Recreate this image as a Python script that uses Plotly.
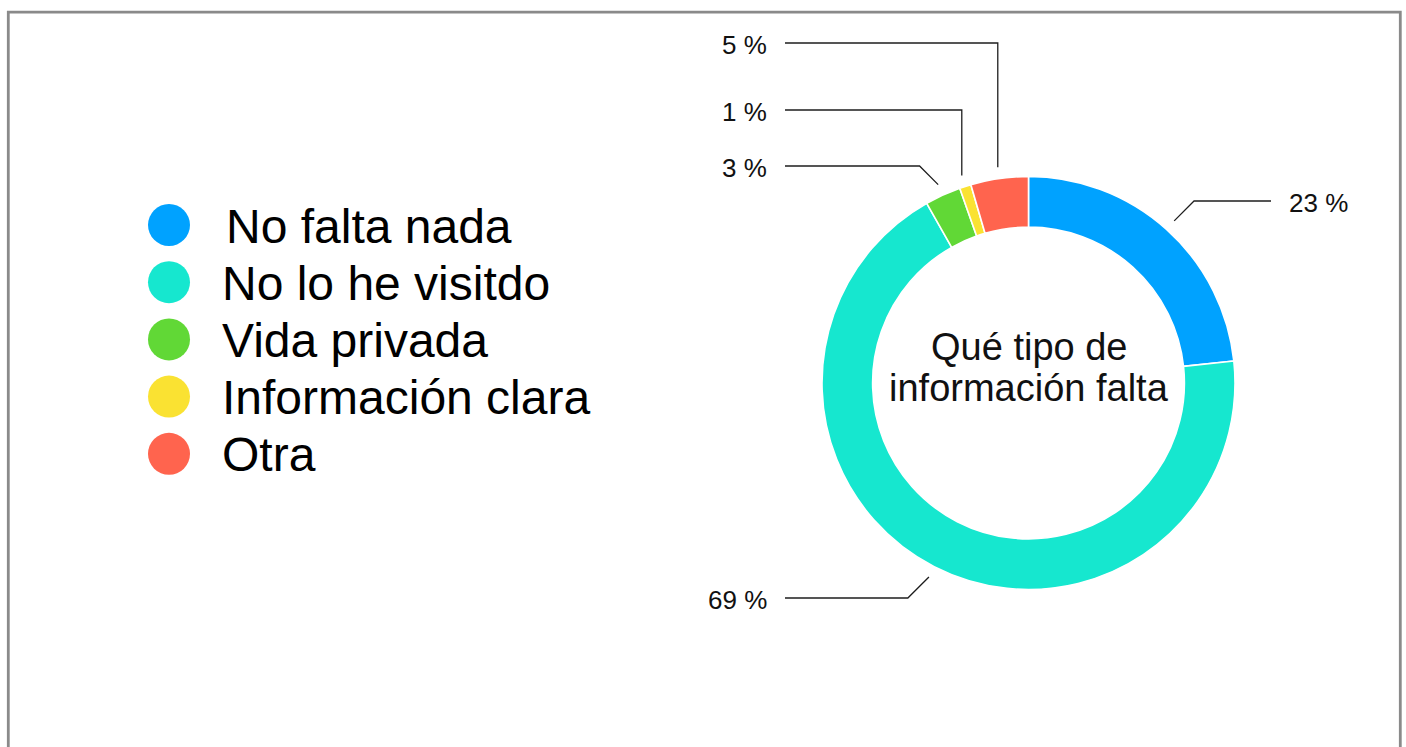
import math
import plotly.graph_objects as go

# ---------------- data ----------------
categories = ["No falta nada", "No lo he visitdo", "Vida privada", "Información clara", "Otra"]
values = [23.3, 68.5, 2.8, 0.9, 4.5]
pct_labels = ["23 %", "69 %", "3 %", "1 %", "5 %"]
center_title = ["Qué tipo de", "información falta"]

# ---------------- style / layout ----------------
colors = ["#00A2FF", "#16E7CF", "#61D836", "#FAE232", "#FF644E"]
W, H = 1406, 747
CX, CY, R = 1028.5, 383.0, 206.5
HOLE = 0.755
GAP = 11.5
label_rows = [201, 598, 166, 110, 43]
COL_LEFT, COL_RIGHT = 785, 1271
FONT = "Liberation Sans, Arial, Helvetica, sans-serif"

fig = go.Figure()

# donut
fig.add_trace(go.Pie(
    labels=categories, values=values, sort=False, direction="clockwise", rotation=0,
    hole=HOLE, marker=dict(colors=colors, line=dict(color="white", width=1.6)),
    textinfo="none", hoverinfo="label+percent", showlegend=False,
    domain=dict(x=[(CX - R) / W, (CX + R) / W], y=[(H - CY - R) / H, (H - CY + R) / H]),
))

annotations = []

# leader lines + percentage labels
total = sum(values)
cum = 0.0
for i, v in enumerate(values):
    mid = (cum + v / 2) / total * 2 * math.pi
    cum += v
    ax = CX + (R + GAP) * math.sin(mid)
    ay = CY - (R + GAP) * math.cos(mid)
    ly = label_rows[i]
    right = ax > CX
    dy = abs(ay - ly)
    if dy < 30:
        ex = ax + (dy if right else -dy)
    else:
        ex = ax
    endx = COL_RIGHT if right else COL_LEFT
    fig.add_trace(go.Scatter(
        x=[ax, ex, endx], y=[ay, ly, ly], mode="lines",
        line=dict(color="#1e1e1e", width=1.3), hoverinfo="skip", showlegend=False,
    ))
    annotations.append(dict(
        x=endx + (16 if right else -16), y=ly + 2, xref="x", yref="y",
        text=pct_labels[i], showarrow=False,
        xanchor="left" if right else "right", yanchor="middle",
        font=dict(family=FONT, size=26, color="#111111"),
    ))

# custom legend
LEG_X, LEG_Y0, LEG_DY = 169, 225, 57.2
fig.add_trace(go.Scatter(
    x=[LEG_X] * len(categories), y=[LEG_Y0 + i * LEG_DY for i in range(len(categories))],
    mode="markers", marker=dict(size=42, color=colors, line=dict(width=0)),
    hoverinfo="skip", showlegend=False,
))
for i, c in enumerate(categories):
    annotations.append(dict(
        x=220 + (4 if i == 0 else 0), y=LEG_Y0 + i * LEG_DY + 1, xref="x", yref="y",
        text=c, showarrow=False, xanchor="left", yanchor="middle",
        font=dict(family=FONT, size=48, color="#000000"),
    ))

# centre title
for j, t in enumerate(center_title):
    annotations.append(dict(
        x=CX, y=347 + j * 41, xref="x", yref="y", text=t, showarrow=False,
        xanchor="center", yanchor="middle",
        font=dict(family=FONT, size=38, color="#111111"),
    ))

fig.update_layout(
    width=W, height=H, autosize=False,
    margin=dict(l=0, r=0, t=0, b=0),
    paper_bgcolor="white", plot_bgcolor="white",
    xaxis=dict(range=[0, W], visible=False, fixedrange=True),
    yaxis=dict(range=[H, 0], visible=False, fixedrange=True),
    annotations=annotations,
    shapes=[dict(type="rect", xref="x", yref="y", x0=8.3, y0=12.2, x1=1400.3, y1=H + 40,
                 line=dict(color="#8a8a8a", width=2.8), layer="above")],
)

fig.write_html("out.html", config={"displayModeBar": False},
               post_script="document.body.style.margin='0';document.body.style.overflow='hidden';")
